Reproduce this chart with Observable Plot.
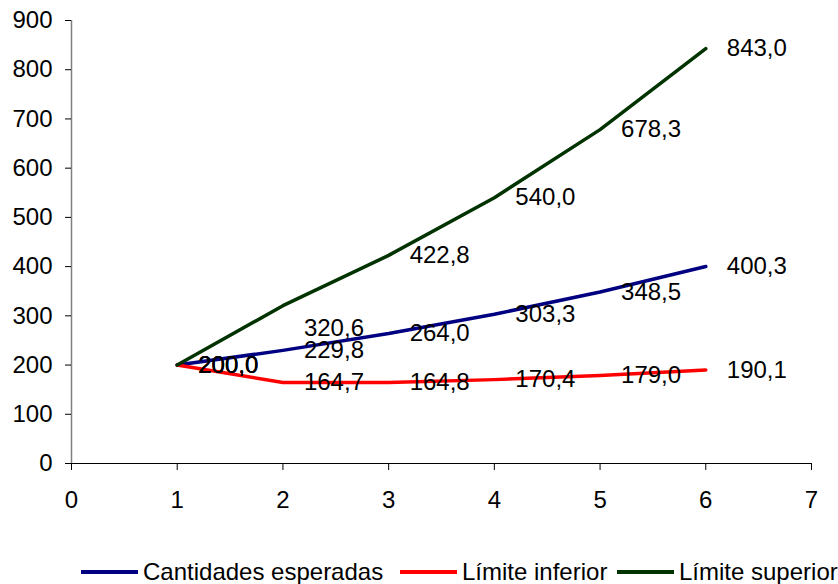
<!DOCTYPE html>
<html>
<head>
<meta charset="utf-8">
<script src="https://cdn.jsdelivr.net/npm/d3@7"></script>
<script src="https://cdn.jsdelivr.net/npm/@observablehq/plot@0.6"></script>
<style>
  html, body { margin: 0; padding: 0; background: #fff; overflow: hidden; }
  body { width: 838px; height: 584px; font-family: "Liberation Sans", Arial, sans-serif; }
  #legend {
    position: relative; height: 54px; white-space: nowrap;
    font-size: 24px; color: #000;
  }
  .item { position: absolute; top: 28px; display: flex; align-items: center; }
  .sw { width: 57px; height: 4px; margin-right: 5px; }
</style>
</head>
<body>
<div id="chart"></div>
<div id="legend"></div>
<script>
// Periods and the three series
const periods = [1, 2, 3, 4, 5, 6];
const esperadas = [200.0, 229.8, 264.0, 303.3, 348.5, 400.3];
const inferior = [200.0, 164.7, 164.8, 170.4, 179.0, 190.1];
const superior = [200.0, 320.6, 422.8, 540.0, 678.3, 843.0];

const seriesNames = ["Cantidades esperadas", "Límite inferior", "Límite superior"];
const seriesColors = ["#000080", "#ff0000", "#003300"];
const xTicks = [0, 1, 2, 3, 4, 5, 6, 7];
const yTicks = [0, 100, 200, 300, 400, 500, 600, 700, 800, 900];

const values = [esperadas, inferior, superior];
const rows = [];
values.forEach((vals, s) => {
  vals.forEach((v, i) => rows.push({serie: seriesNames[s], x: periods[i], y: v}));
});

const fmt = v => d3.format(".1f")(v).replace(".", ",");
const font = "Liberation Sans, Arial, sans-serif";
// one label on the upper line sits a little below its point
const shifted = d => d.serie === "Límite superior" && d.x === 2;

const chart = Plot.plot({
  width: 838,
  height: 530,
  marginLeft: 71,
  marginRight: 27,
  marginTop: 20,
  marginBottom: 67,
  style: {fontFamily: font, fontSize: "24px", color: "#000", background: "#fff"},
  x: {domain: [0, 7], ticks: xTicks, label: null},
  y: {domain: [0, 900], ticks: yTicks, label: null},
  color: {domain: seriesNames, range: seriesColors},
  marks: [
    Plot.ruleX([0], {stroke: "#808080", strokeWidth: 1.5}),
    Plot.ruleY([0], {stroke: "#000", strokeWidth: 1}),
    Plot.axisY({ticks: yTicks, label: null, tickSize: 6, tickPadding: 13, tickFormat: d => d, fontSize: 24, stroke: "#000", strokeOpacity: 1}),
    Plot.axisX({ticks: xTicks, label: null, tickSize: 7, tickPadding: 20, tickFormat: d => d, fontSize: 24, stroke: "#000", strokeOpacity: 1}),
    Plot.line(rows, {x: "x", y: "y", z: "serie", stroke: "serie", strokeWidth: 3.5, strokeLinejoin: "round"}),
    Plot.text(rows.filter(d => !shifted(d)), {x: "x", y: "y", text: d => fmt(d.y), textAnchor: "start", dx: 21, fontSize: 24, fill: "#000"}),
    Plot.text(rows.filter(shifted), {x: "x", y: "y", text: d => fmt(d.y), textAnchor: "start", dx: 21, dy: 23, fontSize: 24, fill: "#000"})
  ]
});
document.getElementById("chart").appendChild(chart);

// legend below the plot
const legend = document.getElementById("legend");
const lefts = [81, 400, 617];
seriesNames.forEach((name, i) => {
  const item = document.createElement("div");
  item.className = "item";
  item.style.left = lefts[i] + "px";
  const sw = document.createElement("span");
  sw.className = "sw";
  sw.style.background = seriesColors[i];
  const label = document.createElement("span");
  label.textContent = name;
  item.appendChild(sw);
  item.appendChild(label);
  legend.appendChild(item);
});
</script>
</body>
</html>
